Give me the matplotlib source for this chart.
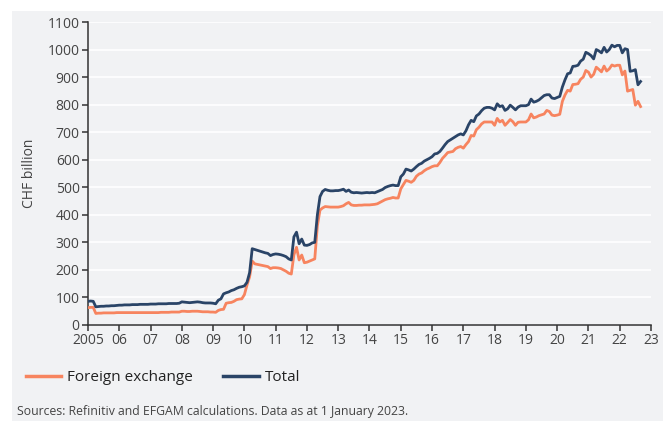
import numpy as np
import matplotlib.pyplot as plt
from matplotlib.patches import Rectangle

plt.rcParams['font.family'] = ['Open Sans', 'DejaVu Sans']

# monthly values, Jan 2005 - Sep 2022 (CHF billion)
total = [
    86, 87, 86, 66, 67, 68, 68, 69, 69, 70, 70, 71,            # 2005
    72, 72, 73, 73, 73, 74, 74, 74, 75, 75, 75, 75,            # 2006
    76, 76, 76, 77, 77, 77, 77, 78, 78, 78, 78, 79,            # 2007
    84, 83, 82, 81, 82, 83, 84, 83, 81, 80, 80, 80,            # 2008
    79, 77, 90, 95, 113, 117, 120, 125, 128, 133, 137, 139,    # 2009
    142, 155, 190, 277, 274, 271, 268, 265, 262, 260, 252, 256,  # 2010
    258, 257, 255, 252, 248, 240, 236, 320, 337, 295, 312, 290,  # 2011
    289, 292, 298, 300, 400, 466, 485, 492, 489, 487, 487, 488,  # 2012
    488, 490, 493, 485, 490, 482, 480, 481, 480, 479, 480, 481,  # 2013
    480, 481, 480, 484, 488, 492, 499, 503, 506, 508, 506, 506,  # 2014
    538, 548, 566, 563, 559, 566, 575, 583, 587, 595, 600, 605,  # 2015
    611, 621, 623, 630, 642, 655, 666, 672, 678, 684, 690, 694,  # 2016
    690, 705, 727, 743, 738, 759, 766, 778, 787, 790, 790, 787,  # 2017
    781, 803, 793, 796, 779, 785, 798, 790, 781, 791, 796, 796,  # 2018
    796, 800, 820, 809, 812, 817, 825, 833, 836, 836, 824, 822,  # 2019
    826, 830, 864, 890, 912, 915, 939, 940, 943, 958, 965, 990,  # 2020
    985, 978, 966, 1000, 995, 988, 1008, 991, 1000, 1016, 1010, 1015,  # 2021
    1015, 988, 1003, 1000, 921, 923, 927, 872, 884,            # 2022
]

fx = [
    63, 64, 64, 42, 43, 43, 44, 44, 44, 44, 44, 45,            # 2005
    45, 45, 45, 45, 45, 45, 45, 45, 45, 45, 45, 45,            # 2006
    45, 45, 45, 45, 46, 46, 46, 46, 47, 47, 47, 47,            # 2007
    50, 50, 49, 49, 50, 50, 50, 49, 48, 48, 48, 47,            # 2008
    47, 46, 53, 56, 57, 79, 81, 82, 86, 92, 94, 95,            # 2009
    110, 145, 175, 232, 222, 220, 218, 216, 214, 212, 205, 208,  # 2010
    208, 207, 205, 200, 195, 188, 185, 255, 282, 236, 254, 226,  # 2011
    228, 232, 236, 240, 360, 417, 425, 430, 429, 428, 428, 428,  # 2012
    428, 430, 433, 440, 445, 436, 434, 434, 435, 435, 436, 436,  # 2013
    436, 437, 438, 440, 445, 450, 455, 458, 460, 463, 461, 461,  # 2014
    494, 510, 525, 522, 518, 525, 540, 548, 552, 560, 566, 570,  # 2015
    575, 578, 578, 590, 605, 615, 626, 628, 630, 640, 645, 648,  # 2016
    642, 655, 666, 688, 686, 709, 718, 730, 737, 737, 737, 737,  # 2017
    725, 750, 737, 743, 725, 735, 746, 738, 725, 736, 737, 737,  # 2018
    737, 745, 766, 752, 755, 760, 763, 766, 779, 775, 762, 760,  # 2019
    762, 765, 812, 835, 852, 849, 873, 874, 876, 892, 900, 924,  # 2020
    918, 900, 910, 936, 928, 919, 940, 922, 930, 944, 940, 943,  # 2021
    943, 908, 922, 849, 852, 855, 798, 812, 793,               # 2022
]

years = list(range(2005, 2024))
year_labels = ['2005'] + ['%02d' % (y % 100) for y in years[1:]]
yticks = list(range(0, 1101, 100))

t = 2005 + np.arange(len(total)) / 12.0

bg = '#f1f2f4'
navy = '#2a4467'
salmon = '#f7845f'

fig = plt.figure(figsize=(6.69, 4.21), dpi=100)
fig.patch.set_facecolor('white')
# grey panel behind everything
fig.patches.append(Rectangle((12 / 669, 0), (663 - 12) / 669, (421 - 11) / 421,
                             transform=fig.transFigure, facecolor=bg,
                             edgecolor='none', zorder=-10))

ax = fig.add_axes([88 / 669, 96 / 421, (651 - 88) / 669, (325 - 22) / 421])
ax.set_facecolor(bg)
ax.set_zorder(1)

ax.plot(t, fx, color=salmon, lw=2, label='Foreign exchange', zorder=3)
ax.plot(t, total, color=navy, lw=2, label='Total', zorder=4)

ax.set_xlim(2005, 2023)
ax.set_ylim(0, 1100)
ax.set_xticks(years)
ax.set_xticklabels(year_labels)
ax.set_yticks(yticks)
ax.grid(axis='y', color='white', lw=1.2, zorder=1)
ax.set_axisbelow(True)

for s in ['top', 'right']:
    ax.spines[s].set_visible(False)
for s in ['left', 'bottom']:
    ax.spines[s].set_color('#333333')
    ax.spines[s].set_linewidth(1.1)
ax.tick_params(axis='both', colors='#333333', labelcolor='#444444',
               labelsize=10, length=4.5, width=1.1, direction='out', pad=1.5)

ax.set_ylabel('CHF billion', fontsize=10, color='#444444', labelpad=8)

leg = fig.legend(loc='lower left', bbox_to_anchor=(12 / 669, 22 / 421), ncol=2,
                 frameon=False, fontsize=11, handlelength=2.3, handletextpad=0.4,
                 columnspacing=2.0)
leg.set_zorder(5)
for line in leg.get_lines():
    line.set_linewidth(2.5)
for txt in leg.get_texts():
    txt.set_color('#222222')

fig.text(17 / 669, 1 - 411 / 421, 'Sources: Refinitiv and EFGAM calculations. Data as at 1 January 2023.',
         fontsize=8.8, color='#444444', va='center', ha='left', zorder=5)

plt.savefig('out.png', dpi=100, facecolor='white')
